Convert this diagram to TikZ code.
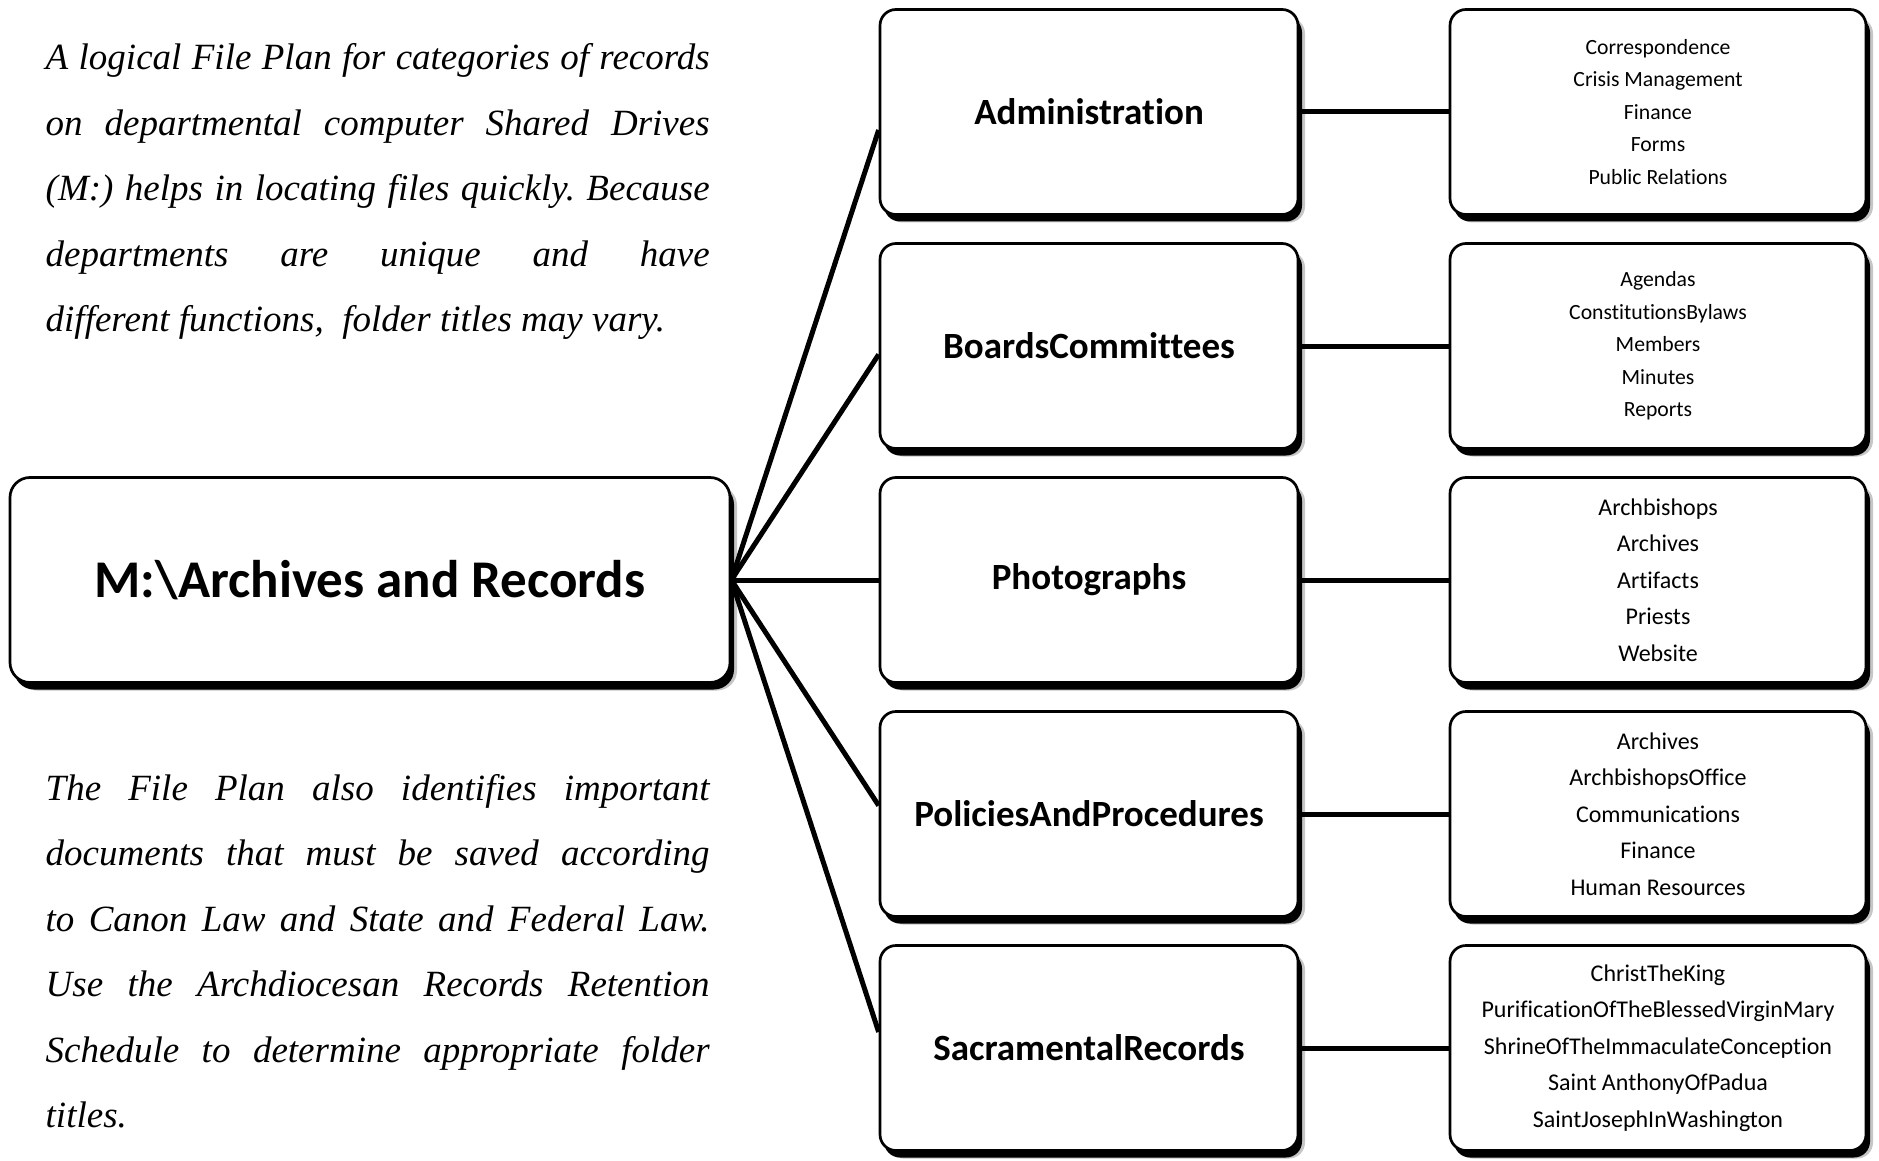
\documentclass[tikz,border=0pt]{standalone}
\usepackage{fontspec}
\setmainfont{Liberation Serif}
\newfontfamily\calibri[Ligatures=NoCommon]{Carlito}
\usetikzlibrary{shadows}
\tikzset{
  boxbase/.style={draw=black, line width=2.7pt, rounded corners=16pt, fill=white,
    inner sep=0pt, align=center, minimum height=205pt,
    general shadow={fill=gray!45, shadow xshift=7pt, shadow yshift=-8pt},
    general shadow={fill=black, shadow xshift=4pt, shadow yshift=-7pt}},
  rootbox/.style={boxbase, minimum width=720pt, rounded corners=20pt,
    font=\calibri\bfseries\fontsize{53}{60}\selectfont},
  midbox/.style={boxbase, minimum width=418pt,
    font=\calibri\bfseries\fontsize{37}{44}\selectfont},
  subboxA/.style={boxbase, minimum width=416pt,
    font=\calibri\fontsize{21.7}{32.5}\selectfont},
  subboxB/.style={boxbase, minimum width=416pt,
    font=\calibri\fontsize{24}{36.6}\selectfont},
  conn/.style={draw=black, line width=5pt},
  para/.style={anchor=north west, inner sep=0pt, text width=664pt, align=justify,
    font=\itshape\fontsize{37}{65.5}\selectfont}
}
\frenchspacing
\begin{document}
\begin{tikzpicture}[x=1pt,y=-1pt]
\useasboundingbox (0,0) rectangle (1879,1161);
\fill[white] (0,0) rectangle (1879,1161);

% left texts
\node[para] (ptop) at (45.5,23.6) {\tolerance=10000\frenchspacing\strut A logical File Plan for categories of records\linebreak
on departmental computer Shared Drives\linebreak
(M:) helps in locating files quickly. Because\linebreak
departments are unique and have\linebreak
different functions,\ \ folder titles may vary.};
\node[para] (pbot) at (45.5,754.2) {\tolerance=10000\frenchspacing\strut The File Plan also identifies important\linebreak
documents that must be saved according\linebreak
to Canon Law and State and Federal Law.\linebreak
Use the Archdiocesan Records Retention\linebreak
Schedule to determine appropriate folder\linebreak
titles.};

% root
\node[rootbox] (root) at (370,580) {M:\textbackslash Archives and Records};

% middle level
\node[midbox] (adm) at (1089,112) {Administration};
\node[midbox] (brd) at (1089,346) {BoardsCommittees};
\node[midbox] (pho) at (1089,580) {Photographs};
\node[midbox] (pol) at (1089,814) {PoliciesAndProcedures};
\node[midbox] (sac) at (1089,1048) {SacramentalRecords};

% right level
\node[subboxA] (admL) at (1658,112) {Correspondence\\Crisis Management\\Finance\\Forms\\Public Relations};
\node[subboxA] (brdL) at (1658,346) {Agendas\\ConstitutionsBylaws\\Members\\Minutes\\Reports};
\node[subboxB] (phoL) at (1658,580) {Archbishops\\Archives\\Artifacts\\Priests\\Website};
\node[subboxB] (polL) at (1658,814) {Archives\\ArchbishopsOffice\\Communications\\Finance\\Human Resources};
\node[subboxB] (sacL) at (1658,1048) {ChristTheKing\\PurificationOfTheBlessedVirginMary\\ShrineOfTheImmaculateConception\\Saint AnthonyOfPadua\\SaintJosephInWashington};

% connectors
\draw[conn] (root.east) -- ([yshift=-18pt]adm.west);
\draw[conn] (root.east) -- ([yshift=-8.5pt]brd.west);
\draw[conn] (root.east) -- (pho.west);
\draw[conn] (root.east) -- ([yshift=8.5pt]pol.west);
\draw[conn] (root.east) -- ([yshift=16pt]sac.west);

\draw[conn] (adm.east) -- (admL.west);
\draw[conn] (brd.east) -- (brdL.west);
\draw[conn] (pho.east) -- (phoL.west);
\draw[conn] (pol.east) -- (polL.west);
\draw[conn] (sac.east) -- (sacL.west);
\end{tikzpicture}
\end{document}
